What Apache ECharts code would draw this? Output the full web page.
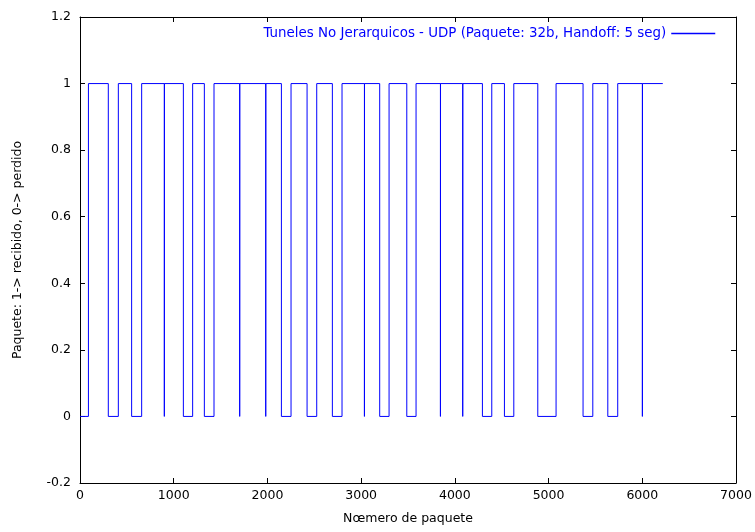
<!DOCTYPE html>
<html>
<head>
<meta charset="utf-8">
<script src="https://cdn.jsdelivr.net/npm/echarts@6/dist/echarts.min.js"></script>
<style>html,body{margin:0;padding:0;background:#fff}#c{width:755px;height:532px}</style>
</head>
<body>
<div id="c"></div>
<script>
// Step data: packet number where the state changes, and the state from that packet on
const packetNumbers = [0, 90, 302, 409, 551, 658, 900, 901, 1103, 1202, 1327, 1430, 1704, 1705, 1982, 1983,
  2149, 2252, 2423, 2526, 2693, 2796, 3035, 3036, 3198, 3298, 3487, 3586, 3846, 3847, 4084, 4085,
  4294, 4394, 4529, 4629, 4885, 5080, 5368, 5472, 5632, 5738, 6001, 6002, 6219];
const received = [0, 1, 0, 1, 0, 1, 0, 1, 0, 1, 0, 1, 0, 1, 0, 1,
  0, 1, 0, 1, 0, 1, 0, 1, 0, 1, 0, 1, 0, 1, 0, 1,
  0, 1, 0, 1, 0, 1, 0, 1, 0, 1, 0, 1, 1];
const seriesName = 'Tuneles No Jerarquicos - UDP (Paquete: 32b, Handoff: 5 seg)';
const xTitle = 'Nœmero de paquete';
const yTitle = 'Paquete: 1-> recibido, 0-> perdido';

const font = 'DejaVu Sans, Liberation Sans, sans-serif';
const fs = 12.5;
const chart = echarts.init(document.getElementById('c'), null, {renderer: 'canvas'});
const axisLine = {show: true, onZero: false, lineStyle: {color: '#000', width: 1}};
const tick = {show: true, inside: true, length: 5, lineStyle: {color: '#000'}};
chart.setOption({
  animation: false,
  backgroundColor: '#fff',
  color: ['#0000ff'],
  grid: {left: 80, right: 19, top: 17, bottom: 49, containLabel: false},
  legend: {
    top: 22, right: 34, align: 'right', orient: 'horizontal',
    itemWidth: 44, itemHeight: 14, itemGap: 10,
    lineStyle: {color: '#0000ff', width: 1.5, opacity: 1},
    itemStyle: {color: '#0000ff', opacity: 0},
    data: [seriesName],
    textStyle: {color: '#0000ff', fontSize: 13.4, fontFamily: font}
  },
  xAxis: [{
    type: 'value', min: 0, max: 7000, interval: 1000,
    name: xTitle, nameLocation: 'middle', nameGap: 29,
    nameTextStyle: {color: '#000', fontSize: fs, fontFamily: font},
    axisLine: axisLine, axisTick: tick, splitLine: {show: false},
    axisLabel: {color: '#000', fontSize: fs, fontFamily: font, margin: 6,
      formatter: v => String(v)}
  }, {
    type: 'value', min: 0, max: 7000, interval: 1000, position: 'top',
    axisLine: axisLine, axisTick: tick, splitLine: {show: false},
    axisLabel: {show: false}
  }],
  yAxis: [{
    type: 'value', min: -0.2, max: 1.2, interval: 0.2,
    name: yTitle, nameLocation: 'middle', nameGap: 56, nameRotate: 90,
    nameTextStyle: {color: '#000', fontSize: fs, fontFamily: font},
    axisLine: axisLine, axisTick: tick, splitLine: {show: false},
    axisLabel: {color: '#000', fontSize: fs, fontFamily: font, margin: 9,
      formatter: v => String(Math.round(v * 10) / 10)}
  }, {
    type: 'value', min: -0.2, max: 1.2, interval: 0.2, position: 'right',
    axisLine: axisLine, axisTick: tick, splitLine: {show: false},
    axisLabel: {show: false}
  }],
  series: [{
    name: seriesName,
    type: 'line',
    step: 'end',
    showSymbol: false,
    symbol: 'none',
    xAxisIndex: 0, yAxisIndex: 0,
    lineStyle: {color: '#0000ff', width: 1},
    itemStyle: {color: '#0000ff'},
    data: packetNumbers.map((x, i) => [x, received[i]])
  }]
});
</script>
</body>
</html>
